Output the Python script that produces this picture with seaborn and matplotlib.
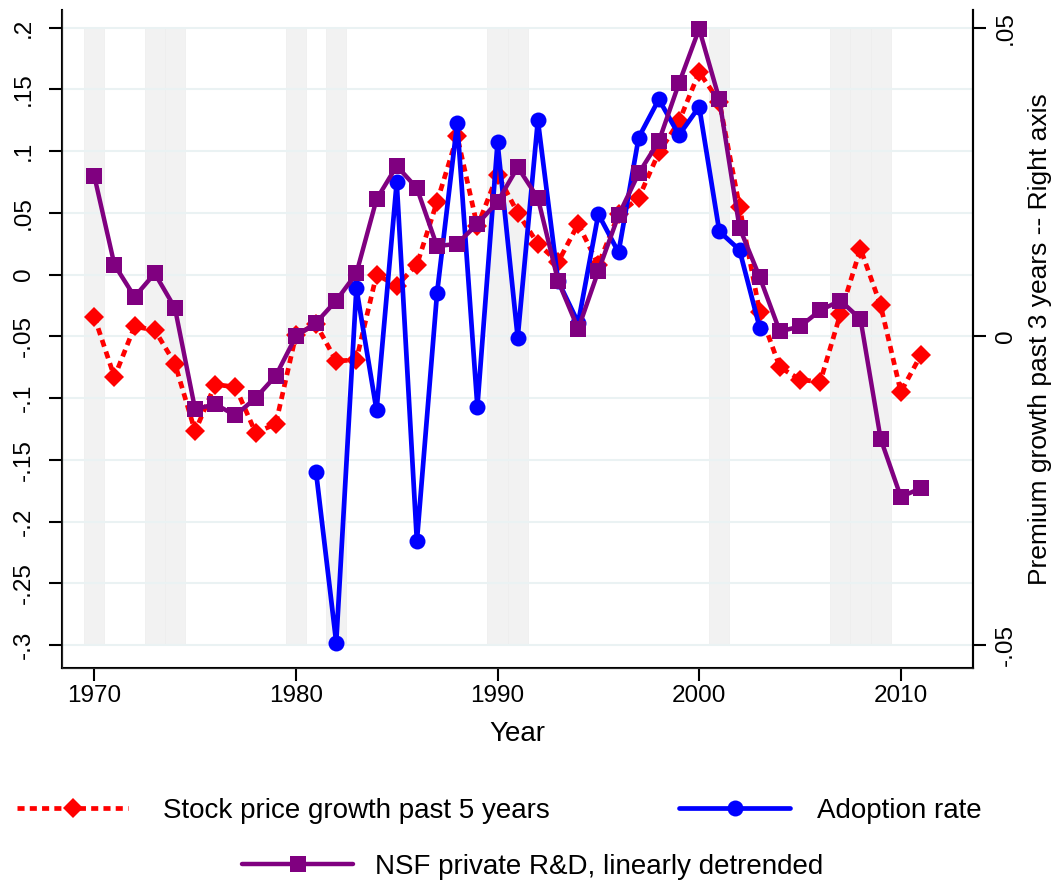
import numpy as np
import pandas as pd
import seaborn as sns
from matplotlib import pyplot as plt
from matplotlib.lines import Line2D

years = list(range(1970, 2012))

stock_growth = [-0.034, -0.083, -0.042, -0.045, -0.072, -0.127, -0.089, -0.091, -0.128, -0.121,
                -0.049, -0.040, -0.070, -0.069, 0.000, -0.009, 0.008, 0.059, 0.112, 0.039,
                0.081, 0.050, 0.025, 0.010, 0.041, 0.008, 0.049, 0.062, 0.099, 0.124,
                0.164, 0.140, 0.055, -0.030, -0.075, -0.085, -0.087, -0.032, 0.021, -0.025,
                -0.095, -0.065]

adoption_years = list(range(1981, 2004))
adoption_rate = [-0.160, -0.298, -0.011, -0.110, 0.075, -0.216, -0.015, 0.123, -0.107, 0.107,
                 -0.051, 0.125, -0.005, -0.039, 0.049, 0.018, 0.111, 0.142, 0.113, 0.136,
                 0.035, 0.020, -0.043]

nsf_rd = [0.080, 0.008, -0.018, 0.001, -0.027, -0.109, -0.105, -0.114, -0.100, -0.082,
          -0.050, -0.039, -0.021, 0.001, 0.061, 0.088, 0.070, 0.023, 0.025, 0.041,
          0.059, 0.087, 0.062, -0.005, -0.044, 0.003, 0.048, 0.082, 0.108, 0.155,
          0.199, 0.142, 0.038, -0.002, -0.046, -0.042, -0.029, -0.021, -0.036, -0.133,
          -0.180, -0.173]

recession_years = [1970, 1973, 1974, 1980, 1982, 1990, 1991, 2001, 2007, 2008, 2009]

left_ticks = [0.2, 0.15, 0.1, 0.05, 0, -0.05, -0.1, -0.15, -0.2, -0.25, -0.3]
left_labels = ['.2', '.15', '.1', '.05', '0', '-.05', '-.1', '-.15', '-.2', '-.25', '-.3']
right_ticks = [0.05, 0, -0.05]
right_labels = ['.05', '0', '-.05']
x_ticks = [1970, 1980, 1990, 2000, 2010]

RED = '#ff0000'
BLUE = '#0000ff'
PURPLE = '#800080'

sns.set_style('white')
plt.rcParams['font.family'] = ['Liberation Sans', 'DejaVu Sans']
plt.rcParams['text.color'] = 'black'
plt.rcParams['axes.labelcolor'] = 'black'
plt.rcParams['xtick.color'] = 'black'
plt.rcParams['ytick.color'] = 'black'

df = pd.DataFrame({'year': years, 'stock': stock_growth, 'nsf': nsf_rd})
df_ad = pd.DataFrame({'year': adoption_years, 'adoption': adoption_rate})

fig = plt.figure(figsize=(10.55, 8.84), dpi=100)
ax = fig.add_axes([62 / 1055, 1 - 668 / 884, (973 - 62) / 1055, (668 - 10) / 884])

# recession shading
ax.bar(recession_years, 0.5, bottom=-0.3, width=1.0, color='#f2f2f2',
       edgecolor='#ededed', linewidth=0.5, zorder=0.1)

sns.lineplot(data=df, x='year', y='stock', ax=ax, color=RED, linewidth=3.4,
             linestyle=(0, (1.5, 1.1)), marker='D', markersize=9.8,
             markeredgewidth=0, legend=False, zorder=3)
sns.lineplot(data=df_ad, x='year', y='adoption', ax=ax, color=BLUE, linewidth=3.4,
             marker='o', markersize=11.5, markeredgewidth=0, legend=False, zorder=4)
sns.lineplot(data=df, x='year', y='nsf', ax=ax, color=PURPLE, linewidth=3.2,
             marker='s', markersize=11.5, markeredgewidth=0, legend=False, zorder=5)

ylo, yhi = -0.3186, 0.2143
ax.set_ylim(ylo, yhi)
ax.set_xlim(1968.40, 2013.58)
ax.set_yticks(left_ticks)
ax.set_yticklabels(left_labels, rotation=90, va='center')
ax.set_xticks(x_ticks)
ax.set_xlabel('Year', fontsize=20, labelpad=10)
ax.set_ylabel('')
ax.grid(axis='y', color='#eaf2f3', linewidth=1.5)
ax.grid(axis='x', visible=False)
ax.set_axisbelow(True)
ax.tick_params(axis='both', direction='out', length=9.5, width=1.5, color='black',
               labelsize=17.5, left=True, bottom=True)
ax.tick_params(axis='y', pad=10)
ax.tick_params(axis='x', pad=3)
for s in ['left', 'bottom', 'right']:
    ax.spines[s].set_color('black')
    ax.spines[s].set_linewidth(1.5)
ax.spines['top'].set_visible(False)

ax2 = ax.twinx()
ax2.set_ylim((ylo + 0.05) / 5, (yhi + 0.05) / 5)
ax2.set_yticks(right_ticks)
ax2.set_yticklabels(right_labels, rotation=90, va='center')
ax2.tick_params(axis='y', direction='out', length=9.5, width=1.5, color='black',
                labelsize=17.5, right=True, pad=6)
ax2.set_ylabel('Premium growth past 3 years -- Right axis', fontsize=19, labelpad=8)
ax2.spines['top'].set_visible(False)
ax2.spines['right'].set_linewidth(1.5)
ax2.spines['right'].set_color('black')
ax2.grid(False)

# legend, one entry each so the layout matches
h_red = Line2D([], [], color=RED, linewidth=3.4, linestyle=(0, (1.5, 1.1)),
               marker='D', markersize=9.8, markeredgewidth=0)
h_blue = Line2D([], [], color=BLUE, linewidth=3.4, marker='o', markersize=11.5,
                markeredgewidth=0)
h_purple = Line2D([], [], color=PURPLE, linewidth=3.2, marker='s', markersize=11.5,
                  markeredgewidth=0)

entries = [
    (h_red, 'Stock price growth past 5 years', 17, 811, 1.26),
    (h_blue, 'Adoption rate', 679, 811, 0.97),
    (h_purple, 'NSF private R&D, linearly detrended', 242, 867, 0.79),
]
for h, lab, x0, y0, pad in entries:
    fig.legend(handles=[h], labels=[lab], loc='center left',
               bbox_to_anchor=(x0 / 1055, 1 - y0 / 884), frameon=False,
               fontsize=20, handlelength=4.0, handletextpad=pad, numpoints=1,
               borderpad=0, borderaxespad=0)

fig.savefig('out.png', dpi=100)
